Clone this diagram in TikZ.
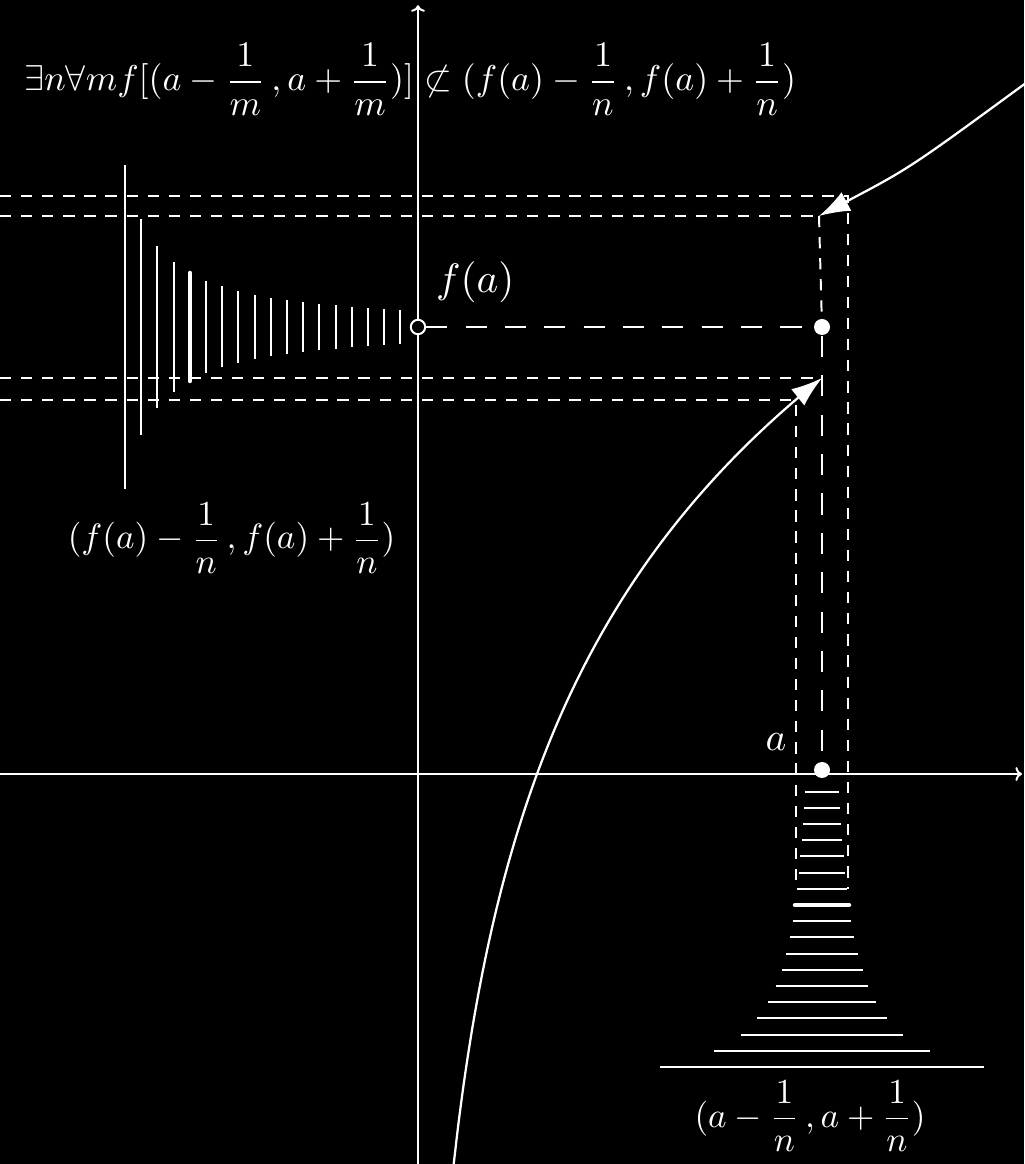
\documentclass[tikz,border=0pt]{standalone}
\usepackage{amsmath}
\usepackage{amssymb}
\usetikzlibrary{arrows.meta}
\usetikzlibrary{calc}
\definecolor{board}{RGB}{0, 0, 0}
\definecolor{chalk}{RGB}{255, 255, 255}

\tikzset{
  shortdash/.style={dash pattern=on 8pt off 7pt},
  longdash/.style={dash pattern=on 15pt off 13pt},
  lbl/.style={text=chalk, inner sep=0pt, scale=2.5},
  bighead/.style={-{Latex[length=22pt,width=15pt]}},
}

\begin{document}
\begin{tikzpicture}[line width=1.4pt, draw=chalk, color=chalk]
  \useasboundingbox (-10.45,-9.75) rectangle (15.15,19.35);
  \fill[board] (-10.45,-9.75) rectangle (15.15,19.35);

  % axes
  \draw[->] (-10.45,0) -- (15.1,0);
  \draw[->] (0,-9.75) -- (0,19.22);

  % limit points and values
  \coordinate (up) at (10.025,13.95);
  \coordinate (lo) at (10.1,9.89);
  \coordinate (am) at (9.45,9.36);
  \coordinate (ap) at (10.75,14.45);
  \node[circle,fill=chalk,minimum size=0.4cm,inner sep=0] (fa) at (10.1,11.175) {};
  \node[circle,draw=chalk,fill=board,minimum size=0.36cm,inner sep=0] (hole) at (0,11.175) {};
  \node[circle,fill=chalk,minimum size=0.4cm,inner sep=0] (adot) at (10.1,0.1) {};

  % graph of f
  \draw[bighead,line width=1.6pt,domain=0.89:10.1,samples=80,smooth]
    plot (\x,{8.1*ln(\x/2.975)});
  \draw[bighead,line width=1.6pt] (15.3,17.35) .. controls (12.3,15.15) .. (up);

  % guide lines
  \draw[shortdash] (-10.45,14.45) -- (ap) -- (10.75,-2.87);
  \draw[shortdash] (-10.45,9.36) -- (am) -- (9.45,-2.87);
  \draw[shortdash] (-10.45,13.95) -- (up);
  \draw[shortdash] (-10.45,9.89) -- (lo);
  \draw[shortdash] (up) -- (fa);
  \draw[longdash] (hole) -- (fa);
  \draw[longdash] (fa) -- (adot);

  % shrinking intervals around f(a)
  \foreach \k [evaluate=\k as \x using -7.325+(\k-1)*0.405,
               evaluate=\k as \h using 8.1/(\k+1)] in {1,...,18}
    \draw (\x,11.175-\h) -- (\x,11.175+\h);
  \draw[line width=3.2pt,line cap=round] (-5.705,9.825) -- (-5.705,12.525);

  % shrinking intervals around a
  \foreach \k [evaluate=\k as \y using -7.325+(\k-1)*0.405,
               evaluate=\k as \h using 8.1/(\k+1)] in {1,...,18}
    \draw (10.1-\h,\y) -- (10.1+\h,\y);
  \draw[line width=3.2pt,line cap=round] (10.1-0.675,-3.275) -- (10.1+0.675,-3.275);

  % labels
  \node[lbl,scale=1.02,anchor=base west] (claim) at (-9.9,17.075)
    {$\displaystyle \exists n\forall m f[(a-\frac{1}{m}\,,a+\frac{1}{m})]\not\subset(f(a)-\frac{1}{n}\,,f(a)+\frac{1}{n})$};
  \node[lbl,anchor=base] (ylbl) at (-4.66,5.625)
    {$\displaystyle (f(a)-\frac{1}{n}\,,f(a)+\frac{1}{n})$};
  \node[lbl,anchor=base] (xlbl) at (9.8,-8.825)
    {$\displaystyle (a-\frac{1}{n}\,,a+\frac{1}{n})$};
  \node[lbl,scale=1.17,anchor=base] (falbl) at (1.43,12.03) {$f(a)$};
  \node[lbl,scale=1.12,anchor=base] (albl) at (8.95,0.575) {$a$};
\end{tikzpicture}
\end{document}
